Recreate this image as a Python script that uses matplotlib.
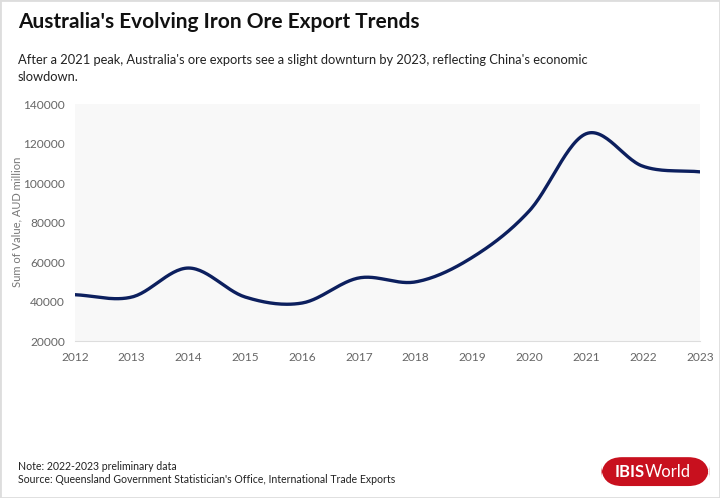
import numpy as np
import matplotlib
matplotlib.use("Agg")
import matplotlib.pyplot as plt
from matplotlib.patches import FancyBboxPatch, Rectangle

years = [2012, 2013, 2014, 2015, 2016, 2017, 2018, 2019, 2020, 2021, 2022, 2023]
export_value = [43500, 42300, 57000, 42300, 39300, 52000, 50000, 62500, 86000, 125000, 108500, 105700]
y_ticks = [20000, 40000, 60000, 80000, 100000, 120000, 140000]


def catmull_rom(xs, ys, steps=30):
    # smooth line through the points, like a spreadsheet "smoothed line"
    xs = np.asarray(xs, float)
    ys = np.asarray(ys, float)
    px = np.concatenate([[2 * xs[0] - xs[1]], xs, [2 * xs[-1] - xs[-2]]])
    py = np.concatenate([[2 * ys[0] - ys[1]], ys, [2 * ys[-1] - ys[-2]]])
    out_x, out_y = [], []
    t = np.linspace(0, 1, steps, endpoint=False)
    for i in range(1, len(px) - 2):
        for arr, out in ((px, out_x), (py, out_y)):
            p0, p1, p2, p3 = arr[i - 1], arr[i], arr[i + 1], arr[i + 2]
            out.extend(0.5 * ((2 * p1) + (-p0 + p2) * t
                              + (2 * p0 - 5 * p1 + 4 * p2 - p3) * t ** 2
                              + (-p0 + 3 * p1 - 3 * p2 + p3) * t ** 3))
    out_x.append(xs[-1])
    out_y.append(ys[-1])
    return np.array(out_x), np.array(out_y)


plt.rcParams['font.family'] = ['Lato', 'DejaVu Sans']

fig = plt.figure(figsize=(7.2, 4.98), dpi=100)
fig.patches.append(Rectangle((0, 0), 1, 1, transform=fig.transFigure,
                             fill=False, edgecolor='#dddddd', linewidth=2))

ax = fig.add_axes([0.104, 0.315, 0.868, 0.476])
ax.set_facecolor('#f8f8f8')

sx, sy = catmull_rom(years, export_value)
ax.plot(sx, sy, color='#0c1f5e', linewidth=2.4, solid_capstyle='round')

ax.set_xlim(2012, 2023)
ax.set_ylim(20000, 140000)
ax.set_xticks(years)
ax.set_yticks(y_ticks)
ax.tick_params(length=0, labelsize=8.6, labelcolor='#666666')
ax.tick_params(axis='x', pad=8)
ax.tick_params(axis='y', pad=7)
for s in ['top', 'right', 'left']:
    ax.spines[s].set_visible(False)
ax.spines['bottom'].set_color('#dddddd')
fig.text(0.024, 0.555, 'Sum of Value, AUD million', fontsize=8, color='#777777',
         rotation=90, ha='center', va='center')

fig.text(0.025, 0.955, "Australia's Evolving Iron Ore Export Trends",
         fontsize=15, fontweight='bold', color='#111111', va='center')
fig.text(0.025, 0.880, "After a 2021 peak, Australia's ore exports see a slight downturn by 2023, reflecting China's economic",
         fontsize=9.3, color='#222222', va='center')
fig.text(0.025, 0.846, "slowdown.", fontsize=9.3, color='#222222', va='center')

fig.text(0.025, 0.064, "Note: 2022-2023 preliminary data", fontsize=7.6, color='#222222', va='center')
fig.text(0.025, 0.038, "Source: Queensland Government Statistician's Office, International Trade Exports",
         fontsize=7.6, color='#222222', va='center')

logo = FancyBboxPatch((0.835, 0.024), 0.150, 0.058, transform=fig.transFigure,
                      boxstyle='round,pad=0,rounding_size=0.029', mutation_aspect=720 / 498,
                      facecolor='#c8101e', edgecolor='none')
fig.patches.append(logo)
fig.text(0.895, 0.052, "IBIS", fontsize=12, fontweight='bold', color='white', ha='right', va='center')
fig.text(0.895, 0.052, "World", fontsize=12, color='white', ha='left', va='center')

fig.savefig('out.png', dpi=100)
